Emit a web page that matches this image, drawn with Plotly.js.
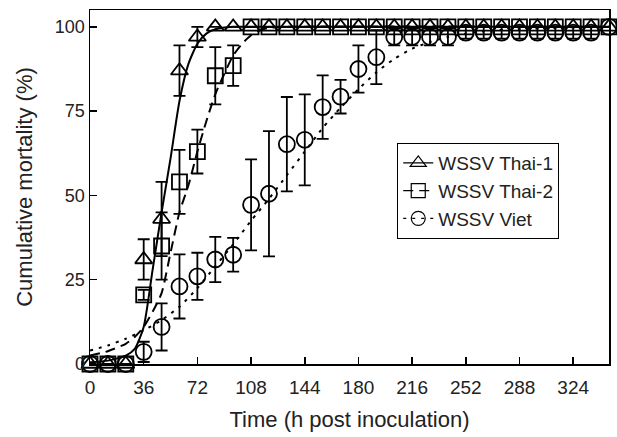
<!DOCTYPE html>
<html>
<head>
<meta charset="utf-8">
<script src="https://cdn.plot.ly/plotly-3.0.1.min.js"></script>
<style>html,body{margin:0;padding:0;background:#fff;}#chart{width:617px;height:437px;}</style>
</head>
<body>
<div id="chart"></div>
<script>
// Sampling times (h post inoculation)
const hours = [0,12,24,36,48,60,72,84,96,108,120,132,144,156,168,180,192,204,216,228,240,252,264,276,288,300,312,324,336,348];

// Observed cumulative mortality (%) and error bars
const thai1 = [0,0,0,31,43,87,97,100,100,100,100,100,100,100,100,100,100,100,100,100,100,100,100,100,100,100,100,100,100,100];
const thai1Err = [0,0,0,6,11,7.5,3,0,0,0,0,0,0,0,0,0,0,0,0,0,0,0,0,0,0,0,0,0,0,0];
const thai2 = [0,0,0,20.5,35,54,63,85.5,88.5,100,100,100,100,100,100,100,100,100,100,100,100,100,100,100,100,100,100,100,100,100];
const thai2Err = [0,0,0,1.5,10,9.5,6.5,8.5,6,0,0,0,0,0,0,0,0,0,0,0,0,0,0,0,0,0,0,0,0,0];
const viet = [0,0,0,3.6,11,23,26,31,32.4,47.2,50.5,65.2,66.5,76.2,79.3,87.5,91,97,97,97,97,98.3,98.3,98.3,98.3,98.3,98.3,98.3,98.3,100];
const vietErr = [0,0,0,3,7,9.5,7,6.7,5,13.5,18.6,14,13.5,9.4,5,7,8,2.5,2.5,2.5,2.5,1.8,1.8,1.8,1.8,1.8,1.8,1.8,1.8,0];

// Fitted curves
const fit1T = [0,12,24,30,36,42,48,54,60,66,72,78,84,96,120,348];
const fit1Y = [0.5,1,2.5,4.5,11,28,45,61,78,89,95,98,99.3,100,100,100];
const fit2T = [0,12,24,30,36,42,48,54,60,66,72,78,84,90,96,102,108,114,120,132,348];
const fit2Y = [2.5,3.8,6,8,11,15.5,21,33,45,53,63,72,80,86,91.5,95,97.5,99,99.7,100,100];
const fit3T = [0,12,24,36,48,60,72,84,96,108,120,132,144,156,168,180,192,204,216,228,240,252,264,288,348];
const fit3Y = [4,5.5,7.5,10,13,17,22.5,29,35.5,42.5,49,56,63,70,76,81.5,86.5,90.5,93.5,95.5,97,98,98.7,99.4,100];

const seriesNames = ['WSSV Thai-1','WSSV Thai-2','WSSV Viet'];
const xTicks = [0,36,72,108,144,180,216,252,288,324];
const yTicks = [0,25,50,75,100];

const FONT = 'Liberation Sans, Arial, Helvetica, sans-serif';
const dashes = ['solid','10px,6px','3px,6px'];
const symbols = ['triangle-up-open','square-open','circle-open'];
const sizes = [15,15,16];

function fitTrace(x, y, i) {
  return {x: x, y: y, mode: 'lines', type: 'scatter', showlegend: false, hoverinfo: 'skip',
    line: {color: 'black', width: 2, dash: dashes[i], shape: 'spline', smoothing: 0.6}};
}
function dataTrace(y, err, i) {
  return {x: hours, y: y, mode: 'markers', type: 'scatter', showlegend: false, cliponaxis: false,
    marker: {symbol: symbols[i], size: sizes[i], color: 'black', line: {color: 'black', width: 1.8}},
    error_y: {type: 'data', array: err, visible: true, color: 'black', thickness: 1.8, width: 6}};
}
function legendTrace(i) {
  return {x: [null], y: [null], mode: 'lines+markers', type: 'scatter', name: seriesNames[i],
    line: {color: 'black', width: 1.2, dash: dashes[i]},
    marker: {symbol: symbols[i], size: 14, color: 'black', line: {color: 'black', width: 1.2}}};
}

const traces = [
  fitTrace(fit1T, fit1Y, 0), fitTrace(fit2T, fit2Y, 1), fitTrace(fit3T, fit3Y, 2),
  dataTrace(viet, vietErr, 2), dataTrace(thai2, thai2Err, 1), dataTrace(thai1, thai1Err, 0),
  legendTrace(0), legendTrace(1), legendTrace(2)
];

const layout = {
  width: 617, height: 437,
  margin: {l: 90, r: 8, t: 10, b: 73},
  paper_bgcolor: 'white', plot_bgcolor: 'white',
  font: {family: FONT, color: '#222'},
  showlegend: true,
  xaxis: {
    range: [0, 348], tickvals: xTicks, ticktext: xTicks.map(String),
    ticks: 'inside', ticklen: 7, tickwidth: 1.5, tickcolor: 'black',
    showline: true, linecolor: 'black', linewidth: 1.5, mirror: true,
    showgrid: false, zeroline: false, ticklabelstandoff: 6,
    tickfont: {family: FONT, size: 19, color: '#222'},
    title: {text: 'Time (h post inoculation)', font: {family: FONT, size: 22, color: '#222'}, standoff: 14}
  },
  yaxis: {
    range: [0, 105], tickvals: yTicks, ticktext: yTicks.map(String),
    ticks: 'inside', ticklen: 7, tickwidth: 1.5, tickcolor: 'black',
    showline: true, linecolor: 'black', linewidth: 1.5, mirror: true,
    showgrid: false, zeroline: false,
    tickfont: {family: FONT, size: 18, color: '#222'},
    title: {text: 'Cumulative mortality (%)', font: {family: FONT, size: 22, color: '#222'}, standoff: 16}
  },
  legend: {
    x: 0.592, y: 0.624, xanchor: 'left', yanchor: 'top',
    bgcolor: 'white', bordercolor: 'black', borderwidth: 1,
    font: {family: FONT, size: 19, color: '#222'}
  }
};

Plotly.newPlot('chart', traces, layout, {displayModeBar: false, staticPlot: true});
</script>
</body>
</html>
